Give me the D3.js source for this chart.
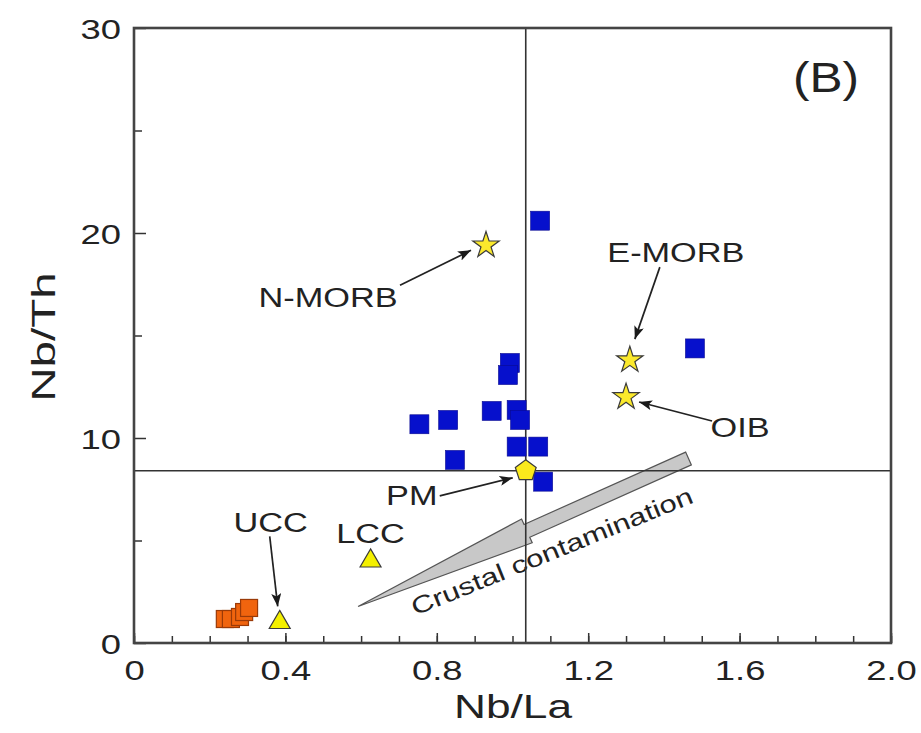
<!DOCTYPE html>
<html>
<head>
<meta charset="utf-8">
<script src="https://cdn.jsdelivr.net/npm/d3@7"></script>
<style>
  body { margin: 0; background: #fff; }
  svg text { font-family: "Liberation Sans", Arial, sans-serif; fill: #222; }
</style>
</head>
<body>
<svg id="chart" width="921" height="733"></svg>
<script>
// Blue squares: samples
const sampleNbLa = [1.073, 0.754, 0.830, 0.848, 0.945, 0.993, 0.988, 1.011, 1.020, 1.011, 1.068, 1.081, 1.482];
const sampleNbTh = [20.6, 10.67, 10.88, 8.93, 11.32, 13.66, 13.07, 11.37, 10.88, 9.58, 9.58, 7.87, 14.37];

// Orange squares
const crustNbLa = [0.240, 0.256, 0.280, 0.291, 0.304];
const crustNbTh = [1.17, 1.17, 1.27, 1.51, 1.71];

// Reference reservoirs
const refNames = ["N-MORB", "E-MORB", "OIB", "PM", "UCC", "LCC"];
const refNbLa  = [0.93, 1.31, 1.30, 1.035, 0.385, 0.625];
const refNbTh  = [19.4, 13.8, 12.0, 8.4, 1.1, 4.1];
const refShape = ["star", "star", "star", "pentagon", "triangle", "triangle"];

// Crustal contamination arrow (tail -> tip, data units)
const contamFrom = [1.465, 9.0];
const contamTo = [0.592, 1.78];

const xTicksMajor = [0, 0.4, 0.8, 1.2, 1.6, 2.0];
const yTicksMajor = [0, 10, 20, 30];

const svg = d3.select("#chart");
const x = d3.scaleLinear().domain([0, 2]).range([134, 891]);
const y = d3.scaleLinear().domain([0, 30]).range([643, 28]);

const SX = 1.3; // wide lettering of the original

// Crustal contamination arrow
(function () {
  const tx = x(contamFrom[0]), ty = y(contamFrom[1]);
  const px = x(contamTo[0]), py = y(contamTo[1]);
  const len = Math.hypot(px - tx, py - ty);
  const ux = (px - tx) / len, uy = (py - ty) / len;
  const nx = -uy, ny = ux;
  const shaftW = 7, headW = 13, headL = 185;
  const bx = px - ux * headL, by = py - uy * headL;
  const pts = [
    [tx + nx * shaftW, ty + ny * shaftW],
    [bx + nx * shaftW, by + ny * shaftW],
    [bx + nx * headW, by + ny * headW],
    [px, py],
    [bx - nx * headW, by - ny * headW],
    [bx - nx * shaftW, by - ny * shaftW],
    [tx - nx * shaftW, ty - ny * shaftW]
  ];
  svg.append("path")
    .attr("d", d3.line()(pts) + "Z")
    .attr("fill", "#c8c8c8")
    .attr("stroke", "#555")
    .attr("stroke-width", 1.2)
    .attr("stroke-linejoin", "miter");

  const ang = Math.atan2(py - ty, px - tx) * 180 / Math.PI + 180;
  svg.append("text")
    .attr("transform", `translate(555,559) rotate(${ang + 2}) scale(${SX},1)`)
    .attr("text-anchor", "middle")
    .attr("font-size", 24)
    .attr("fill", "#333")
    .text("Crustal contamination");
})();

// Reference lines through PM
svg.append("line")
  .attr("x1", x(refNbLa[3])).attr("x2", x(refNbLa[3]))
  .attr("y1", y(30)).attr("y2", y(0))
  .attr("stroke", "#333").attr("stroke-width", 1.6);
svg.append("line")
  .attr("x1", x(0)).attr("x2", x(2))
  .attr("y1", y(refNbTh[3])).attr("y2", y(refNbTh[3]))
  .attr("stroke", "#333").attr("stroke-width", 1.6);

// Axes ticks (inside)
const xMinor = svg.append("g").attr("transform", `translate(0,${y(0)})`)
  .call(d3.axisBottom(x).tickValues(d3.range(0, 20.5, 1).map(d => d / 10)).tickSize(-7).tickFormat(""));
const xMajor = svg.append("g").attr("transform", `translate(0,${y(0)})`)
  .call(d3.axisBottom(x).tickValues(xTicksMajor).tickSize(-10).tickPadding(17).tickFormat(d3.format(".1f")));
xMajor.selectAll("text").text(d => d === 0 ? "0" : d3.format(".1f")(d));
const yMinor = svg.append("g").attr("transform", `translate(${x(0)},0)`)
  .call(d3.axisLeft(y).tickValues([5, 15, 25]).tickSize(-8).tickFormat(""));
const yMajor = svg.append("g").attr("transform", `translate(${x(0)},0)`)
  .call(d3.axisLeft(y).tickValues(yTicksMajor).tickSize(-12).tickPadding(10));

[xMinor, xMajor, yMinor, yMajor].forEach(g => {
  g.select(".domain").remove();
  g.selectAll("line").attr("stroke", "#333").attr("stroke-width", 1.5);
  g.selectAll("text")
    .attr("font-size", 28)
    .attr("font-family", "Liberation Sans, Arial, sans-serif")
    .attr("fill", "#222")
    .attr("transform", `scale(${SX},1)`);
});
yMajor.selectAll("text").attr("dy", "0.36em");

// Frame
svg.append("rect")
  .attr("x", x(0)).attr("y", y(30))
  .attr("width", x(2) - x(0)).attr("height", y(0) - y(30))
  .attr("fill", "none").attr("stroke", "#444").attr("stroke-width", 2.6);

// Samples
svg.append("g").selectAll("rect")
  .data(sampleNbLa.map((d, i) => [d, sampleNbTh[i]]))
  .join("rect")
  .attr("x", d => x(d[0]) - 9.5).attr("y", d => y(d[1]) - 9.5)
  .attr("width", 19).attr("height", 19)
  .attr("fill", "#0610cc").attr("stroke", "#0a0a90").attr("stroke-width", 0.6);

svg.append("g").selectAll("rect")
  .data(crustNbLa.map((d, i) => [d, crustNbTh[i]]))
  .join("rect")
  .attr("x", d => x(d[0]) - 8.5).attr("y", d => y(d[1]) - 8.5)
  .attr("width", 17).attr("height", 17)
  .attr("fill", "#f0640e").attr("stroke", "#9a3a08").attr("stroke-width", 1.2);

// Reference symbols
const symbolPentagon = {
  draw(ctx, size) {
    const r = Math.sqrt(size);
    for (let i = 0; i < 5; i++) {
      const a = -Math.PI / 2 + i * 2 * Math.PI / 5;
      if (i === 0) ctx.moveTo(r * Math.cos(a), r * Math.sin(a));
      else ctx.lineTo(r * Math.cos(a), r * Math.sin(a));
    }
    ctx.closePath();
  }
};
const shapeType = { star: d3.symbolStar, pentagon: symbolPentagon, triangle: d3.symbolTriangle };
const shapeSize = { star: 215, pentagon: 120, triangle: 190 };
const shapeFill = { star: "#fbe92c", pentagon: "#fbea1c", triangle: "#f4f000" };

const refs = refNames.map((n, i) => ({ name: n, nbLa: refNbLa[i], nbTh: refNbTh[i], shape: refShape[i] }));

// Annotations: label position and arrow (pixel offsets from the point)
const notes = {
  "N-MORB": { lx: -158, ly: 62, arrow: [-86, 40, -15, 5] },
  "E-MORB": { lx: 46, ly: -98, arrow: [30, -93, 5, -21] },
  "OIB": { lx: 114, ly: 40, arrow: [86, 24, 13, 5] },
  "PM": { lx: -114, ly: 34, arrow: [-86, 25, -13, 7] },
  "UCC": { lx: -9, ly: -88, arrow: [-10, -84, -2, -14] },
  "LCC": { lx: 0, ly: -16, arrow: null }
};

svg.append("defs").append("marker")
  .attr("id", "head")
  .attr("viewBox", "0 0 13 10")
  .attr("refX", 13).attr("refY", 5)
  .attr("markerWidth", 13).attr("markerHeight", 10)
  .attr("markerUnits", "userSpaceOnUse")
  .attr("orient", "auto")
  .append("path").attr("d", "M0,0 L13,5 L0,10 L3,5 Z").attr("fill", "#1a1a1a");

refs.forEach(d => {
  const cx = x(d.nbLa), cy = y(d.nbTh);
  const n = notes[d.name];
  if (n.arrow) {
    svg.append("line")
      .attr("x1", cx + n.arrow[0]).attr("y1", cy + n.arrow[1])
      .attr("x2", cx + n.arrow[2]).attr("y2", cy + n.arrow[3])
      .attr("stroke", "#222").attr("stroke-width", 1.7)
      .attr("marker-end", "url(#head)");
  }
  svg.append("text")
    .attr("transform", `translate(${cx + n.lx},${cy + n.ly}) scale(1.27,1)`)
    .attr("text-anchor", "middle")
    .attr("font-size", 27)
    .text(d.name);
});

svg.append("g").selectAll("path")
  .data(refs)
  .join("path")
  .attr("transform", d => `translate(${x(d.nbLa)},${y(d.nbTh) + (d.shape === "triangle" ? 2 : 0)})`)
  .attr("d", d => d3.symbol(shapeType[d.shape], shapeSize[d.shape])())
  .attr("fill", d => shapeFill[d.shape])
  .attr("stroke", "#3a3a3a")
  .attr("stroke-width", 1.2);

// Panel tag
svg.append("text")
  .attr("transform", `translate(826,92) scale(1.18,1)`)
  .attr("text-anchor", "middle")
  .attr("font-size", 42)
  .text("(B)");

// Axis titles
svg.append("text")
  .attr("transform", `translate(513,718) scale(${SX},1)`)
  .attr("text-anchor", "middle")
  .attr("font-size", 34)
  .text("Nb/La");
svg.append("text")
  .attr("transform", `translate(55,337) rotate(-90) scale(1.4,1)`)
  .attr("text-anchor", "middle")
  .attr("font-size", 34)
  .text("Nb/Th");
</script>
</body>
</html>
